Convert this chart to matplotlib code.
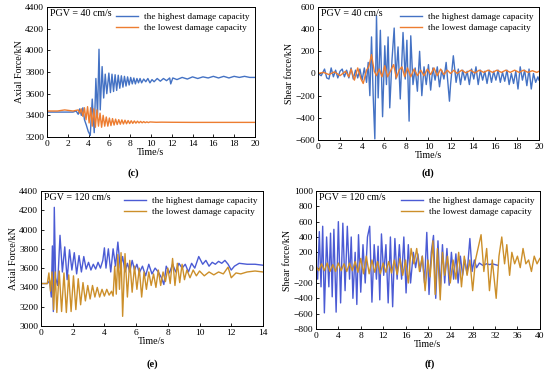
import matplotlib
matplotlib.use("Agg")
import matplotlib.pyplot as plt

# ---------------- data ----------------
# (c) PGV = 40 cm/s, axial force
c_hi_t = [0, 2.5, 2.8, 3.0, 3.15, 3.3, 3.45, 3.6, 3.78, 3.97, 4.16, 4.35, 4.54, 4.7, 4.86, 5.0, 5.12,
          5.3, 5.45, 5.6, 5.75, 5.95, 6.1, 6.25, 6.4, 6.55, 6.7, 6.85, 7.0, 7.15, 7.3, 7.45, 7.6, 7.75,
          7.9, 8.05, 8.2, 8.35, 8.5, 8.65, 8.8, 8.95, 9.1, 9.3, 9.5, 9.7, 9.9, 10.1, 10.3, 10.6, 10.9,
          11.2, 11.5, 11.8, 11.9, 12.1, 12.5, 13.0, 13.5, 14.0, 14.5, 15.0, 15.5, 16.0, 16.5, 17.0,
          17.5, 18.0, 18.5, 19.0, 19.5, 20.0]
c_hi_v = [3430, 3430, 3440, 3410, 3460, 3400, 3470, 3360, 3310, 3250, 3215, 3550, 3240, 3740, 3400,
          4010, 3450, 3850, 3560, 3780, 3600, 3790, 3610, 3780, 3620, 3775, 3630, 3770, 3650, 3765,
          3660, 3760, 3670, 3755, 3680, 3750, 3690, 3745, 3690, 3740, 3700, 3740, 3700, 3735, 3710,
          3740, 3700, 3730, 3710, 3740, 3715, 3740, 3720, 3745, 3690, 3745, 3730, 3750, 3735, 3755,
          3740, 3755, 3745, 3760, 3745, 3760, 3745, 3760, 3750, 3760, 3750, 3750]
c_lo_t = [0, 1.0, 1.7, 2.5, 3.0, 3.15, 3.3, 3.45, 3.6, 3.75, 3.9, 4.05, 4.2, 4.35, 4.5, 4.65, 4.8,
          4.95, 5.1, 5.25, 5.4, 5.55, 5.7, 5.85, 6.0, 6.15, 6.3, 6.45, 6.6, 6.75, 6.9, 7.05, 7.2, 7.35,
          7.5, 7.65, 7.8, 7.95, 8.1, 8.25, 8.4, 8.55, 8.7, 8.85, 9.0, 9.15, 9.3, 9.45, 9.6, 9.75, 9.9,
          10.5, 11.0, 12.0, 14.0, 16.0, 18.0, 20.0]
c_lo_v = [3440, 3440, 3450, 3440, 3450, 3420, 3460, 3390, 3470, 3360, 3480, 3330, 3470, 3300, 3460,
          3290, 3450, 3300, 3420, 3290, 3400, 3300, 3385, 3300, 3375, 3305, 3370, 3310, 3365, 3315,
          3360, 3318, 3358, 3320, 3355, 3322, 3352, 3324, 3350, 3326, 3348, 3328, 3346, 3330, 3344,
          3331, 3342, 3332, 3340, 3333, 3339, 3336, 3337, 3336, 3335, 3335, 3335, 3335]

# (d) PGV = 40 cm/s, shear force
d_hi_t = [0, 0.3, 0.6, 0.8, 1.0, 1.2, 1.4, 1.6, 1.8, 2.0, 2.2, 2.4, 2.6, 2.8, 3.0, 3.2, 3.4, 3.6, 3.8,
          4.0, 4.2, 4.4, 4.55, 4.7, 4.85, 5.0, 5.15, 5.3, 5.45, 5.65, 5.85, 6.05, 6.2, 6.35, 6.5, 6.7,
          6.9, 7.05, 7.25, 7.45, 7.7, 7.9, 8.05, 8.25, 8.4, 8.6, 8.8, 9.0, 9.2, 9.4, 9.6, 9.8, 10.0,
          10.2, 10.4, 10.6, 10.8, 11.0, 11.2, 11.4, 11.6, 11.9, 12.0, 12.25, 12.5, 12.7, 12.9, 13.1,
          13.3, 13.5, 13.7, 13.9, 14.1, 14.3, 14.5, 14.7, 14.9, 15.1, 15.3, 15.5, 15.7, 15.9, 16.1,
          16.3, 16.5, 16.7, 16.9, 17.1, 17.3, 17.5, 17.7, 17.9, 18.1, 18.3, 18.5, 18.7, 18.9, 19.1,
          19.3, 19.5, 19.7, 19.9, 20.0]
d_hi_v = [0, -20, 40, -40, -50, 50, -30, 30, -40, 20, 40, -30, 30, -40, 50, -50, 30, -40, 40, -60, 50,
          -80, 100, -200, 330, -200, -590, 520, -220, 390, -390, 250, -100, 330, -310, 120, 410, -50,
          240, -230, 370, -50, 300, -430, 340, -100, 50, -160, 200, -200, 60, -100, 80, -150, 50, -60,
          60, -120, 30, -50, 100, -250, -100, 160, -80, 40, -100, 30, -60, 20, -100, 40, -50, 60, -100,
          30, -60, 20, -90, 30, -80, 20, -60, 30, -80, 10, -70, 30, -100, 0, -90, 20, -140, 60, -60,
          30, -110, 40, -140, 0, -80, -30, -60]
d_lo_t = [0, 0.5, 1.0, 1.5, 2.0, 2.5, 2.8, 3.0, 3.3, 3.6, 3.9, 4.1, 4.4, 4.6, 4.85, 5.1, 5.3, 5.55,
          5.8, 6.05, 6.3, 6.55, 6.85, 7.1, 7.35, 7.6, 7.85, 8.1, 8.4, 8.7, 9.0, 9.3, 9.6, 9.9, 10.2,
          10.5, 10.8, 11.1, 11.4, 11.7, 12.0, 12.3, 12.6, 13.0, 13.4, 13.8, 14.2, 14.6, 15.0, 15.4,
          15.8, 16.2, 16.6, 17.0, 17.4, 17.8, 18.2, 18.6, 19.0, 19.4, 19.8, 20.0]
d_lo_v = [0, 10, -10, 15, -20, 20, -30, 40, -60, 50, -50, -90, 30, 60, 170, 20, -20, 40, -30, 70, -30,
          20, 80, -40, 30, 60, -30, 50, -30, 40, -20, 30, -20, 40, -10, 50, -20, 40, -10, 30, 0, 30, 0,
          30, 5, 30, 5, 30, 10, 30, 10, 30, 10, 30, 10, 30, 10, 30, 10, 25, 10, 20]

# (e) PGV = 120 cm/s, axial force
e_hi_t = [0, 0.4, 0.55, 0.65, 0.72, 0.78, 0.84, 0.92, 1.05, 1.2, 1.35, 1.5, 1.65, 1.8, 1.95, 2.1, 2.25,
          2.4, 2.55, 2.7, 2.85, 3.0, 3.15, 3.3, 3.45, 3.6, 3.75, 3.9, 4.0, 4.1, 4.25, 4.4, 4.55, 4.7,
          4.85, 5.0, 5.15, 5.3, 5.45, 5.6, 5.75, 5.9, 6.05, 6.2, 6.4, 6.6, 6.8, 7.0, 7.2, 7.4, 7.6,
          7.75, 7.9, 8.1, 8.3, 8.5, 8.7, 8.9, 9.1, 9.3, 9.5, 9.7, 9.95, 10.2, 10.4, 10.6, 10.8, 11.0,
          11.2, 11.4, 11.6, 11.8, 12.0, 12.2, 12.5, 13.0, 13.5, 14.0]
e_hi_v = [3440, 3440, 3470, 3300, 3830, 3150, 4230, 3500, 3420, 3940, 3560, 3820, 3480, 3790, 3580,
          3760, 3540, 3730, 3560, 3720, 3590, 3660, 3580, 3640, 3590, 3660, 3600, 3680, 3810, 3600,
          3800, 3560, 3800, 3620, 3870, 3600, 3720, 3560, 3650, 3560, 3680, 3580, 3640, 3550, 3620,
          3520, 3640, 3540, 3600, 3560, 3500, 3430, 3620, 3550, 3640, 3560, 3650, 3600, 3640, 3560,
          3650, 3600, 3720, 3640, 3680, 3620, 3660, 3640, 3670, 3650, 3680, 3640, 3580, 3620, 3650,
          3640, 3640, 3630]
e_lo_t = [0, 0.4, 0.5, 0.6, 0.7, 0.8, 0.9, 1.0, 1.15, 1.3, 1.45, 1.6, 1.75, 1.9, 2.05, 2.2, 2.35, 2.5,
          2.65, 2.8, 2.95, 3.1, 3.25, 3.4, 3.55, 3.7, 3.85, 4.0, 4.15, 4.3, 4.45, 4.55, 4.65, 4.75,
          4.85, 4.95, 5.05, 5.15, 5.3, 5.45, 5.6, 5.75, 5.9, 6.05, 6.2, 6.35, 6.5, 6.65, 6.8, 6.95,
          7.1, 7.25, 7.4, 7.55, 7.7, 7.85, 8.0, 8.15, 8.3, 8.45, 8.6, 8.75, 8.9, 9.05, 9.2, 9.4, 9.6,
          9.8, 10.0, 10.3, 10.6, 10.9, 11.2, 11.5, 11.8, 12.0, 12.3, 12.6, 13.0, 13.5, 14.0]
e_lo_v = [3440, 3440, 3550, 3360, 3560, 3170, 3560, 3140, 3570, 3150, 3550, 3140, 3530, 3150, 3520,
          3170, 3490, 3220, 3450, 3260, 3420, 3280, 3420, 3300, 3400, 3300, 3380, 3310, 3380, 3320,
          3360, 3310, 3620, 3330, 3740, 3380, 3760, 3100, 3750, 3300, 3680, 3350, 3620, 3380, 3600,
          3300, 3560, 3380, 3560, 3420, 3540, 3400, 3580, 3420, 3560, 3460, 3600, 3440, 3700, 3420,
          3650, 3450, 3640, 3480, 3580, 3500, 3580, 3520, 3570, 3520, 3560, 3530, 3560, 3540, 3610,
          3500, 3550, 3540, 3560, 3570, 3560]

# (f) PGV = 120 cm/s, shear force
f_hi_t = [0, 0.3, 0.6, 0.9, 1.2, 1.5, 1.9, 2.3, 2.6, 2.9, 3.2, 3.6, 4.0, 4.4, 4.8, 5.2, 5.6, 6.0, 6.3,
          6.6, 7.0, 7.3, 7.6, 8.0, 8.4, 8.8, 9.2, 9.6, 10.0, 10.4, 10.8, 11.1, 11.4, 11.7, 12.1, 12.5,
          12.9, 13.3, 13.7, 14.1, 14.5, 14.9, 15.3, 15.7, 16.1, 16.5, 16.9, 17.4, 17.8, 18.2, 18.6,
          19.0, 19.4, 19.8, 20.2, 20.6, 21.0, 21.4, 21.8, 22.2, 22.6, 23.0, 23.4, 23.8, 24.2, 24.6,
          25.0, 25.4, 25.8, 26.2, 26.6, 27.0, 27.5, 27.9, 28.3, 28.7, 29.2, 29.8, 30.5, 31.0, 31.5,
          32.0, 32.5]
f_hi_v = [0, -150, 470, -250, 540, -590, 400, -250, 450, -380, 500, -580, 600, -460, 580, -300, 540,
          -150, 400, -400, 200, -480, 430, -320, 300, -200, 400, 540, -450, 300, -150, 280, -420, 440,
          -100, 300, -460, 400, -510, 380, -150, 300, -150, 400, -330, 300, -200, 200, 0, 180, -50,
          150, -200, 460, -350, 200, 420, -400, 350, -300, 300, -200, 250, -230, 200, -150, 180, -200,
          150, -100, 100, -80, 380, -50, 100, 0, 60, 30, 50, 40, 50, 40, 30]
f_lo_t = [0, 0.5, 1.0, 1.5, 2.0, 2.5, 3.0, 3.5, 4.0, 4.5, 5.0, 5.5, 6.0, 6.5, 7.0, 7.5, 8.0, 8.5, 9.0,
          9.5, 10.0, 10.5, 11.0, 11.5, 12.0, 12.5, 13.0, 13.5, 14.0, 14.5, 15.0, 15.5, 16.0, 16.5,
          17.0, 17.5, 18.0, 18.5, 19.0, 19.5, 20.0, 20.4, 20.9, 21.3, 21.7, 22.2, 22.6, 23.0, 23.5,
          24.0, 24.5, 25.0, 25.5, 26.0, 26.5, 27.0, 27.5, 28.0, 28.5, 29.5, 30.0, 30.5, 31.0, 31.5,
          32.2, 32.7, 33.2, 33.7, 34.1, 34.6, 35.0, 35.5, 36.0, 36.5, 37.0, 37.5, 38.0, 38.5, 39.0,
          39.5, 40.0]
f_lo_v = [20, -40, 50, -40, 60, -50, 40, -50, 60, -40, 50, -50, 60, -40, 80, -60, 120, -80, 150, -80,
          100, -60, 80, -80, 60, -60, 80, -70, 100, -90, 120, -100, 100, -200, 250, 50, 250, -50, 150,
          -300, 100, -120, 350, -350, 250, -420, 200, -100, 150, -200, 100, -150, 200, -250, 150, -100,
          100, -300, 100, 430, -50, 250, -300, 100, -400, 150, 400, 50, 300, -100, 200, 50, 150, 0, 250,
          50, 100, -50, 150, 50, 120]

legend_labels = ["the highest damage capacity", "the lowest damage capacity"]

# ---------------- styling ----------------
plt.rcParams['font.family'] = ['Liberation Serif', 'DejaVu Serif']
FS = 6.5

fig = plt.figure(figsize=(5.5, 3.72), dpi=100)

panels = [
    dict(rect=[0.0855, 0.6317, 0.378, 0.3495], hi=(c_hi_t, c_hi_v), lo=(c_lo_t, c_lo_v),
         xlim=(0, 20), xt=range(0, 21, 2), ylim=(3200, 4400), yt=range(3200, 4401, 200),
         ylab="Axial Force/kN", pgv="PGV = 40 cm/s", tag="(c)", tagxy=(133, 173),
         chi='#4472C4', clo='#ED7D31'),
    dict(rect=[0.578, 0.6237, 0.402, 0.3575], hi=(d_hi_t, d_hi_v), lo=(d_lo_t, d_lo_v),
         xlim=(0, 20), xt=range(0, 21, 2), ylim=(-600, 600), yt=range(-600, 601, 200),
         ylab="Shear force/kN", pgv="PGV = 40 cm/s", tag="(d)", tagxy=(428, 173),
         chi='#4472C4', clo='#ED7D31'),
    dict(rect=[0.0745, 0.1237, 0.4036, 0.363], hi=(e_hi_t, e_hi_v), lo=(e_lo_t, e_lo_v),
         xlim=(0, 14), xt=range(0, 15, 2), ylim=(3000, 4400), yt=range(3000, 4401, 200),
         ylab="Axial Force/kN", pgv="PGV = 120 cm/s", tag="(e)", tagxy=(152, 364),
         chi='#4B5BD4', clo='#CC8F2A'),
    dict(rect=[0.5745, 0.1156, 0.407, 0.371], hi=(f_hi_t, f_hi_v), lo=(f_lo_t, f_lo_v),
         xlim=(0, 40), xt=range(0, 41, 4), ylim=(-800, 1000), yt=range(-800, 1001, 200),
         ylab="Shear force/kN", pgv="PGV = 120 cm/s", tag="(f)", tagxy=(430, 364),
         chi='#4B5BD4', clo='#CC8F2A'),
]

for p in panels:
    ax = fig.add_axes(p['rect'])
    ax.plot(*p['hi'], color=p['chi'], lw=1.0, label=legend_labels[0])
    ax.plot(*p['lo'], color=p['clo'], lw=1.0, label=legend_labels[1])
    ax.set_xlim(*p['xlim'])
    ax.set_ylim(*p['ylim'])
    ax.set_xticks(list(p['xt']))
    ax.set_yticks(list(p['yt']))
    ax.tick_params(direction='in', length=2.5, width=0.6, labelsize=FS + 0.3, pad=2)
    for s in ax.spines.values():
        s.set_linewidth(0.7)
    ax.set_xlabel("Time/s", fontsize=FS + 0.7, labelpad=0)
    ax.set_ylabel(p['ylab'], fontsize=FS + 0.7, labelpad=1)
    ax.text(0.015, 0.985, p['pgv'], transform=ax.transAxes, ha='left', va='top', fontsize=FS + 0.7)
    ax.legend(loc='upper right', frameon=False, fontsize=FS + 0.2, handlelength=2.4,
              handletextpad=0.6, labelspacing=0.25, borderaxespad=0.3, borderpad=0.3)
    fig.text(p['tagxy'][0] / 550, 1 - p['tagxy'][1] / 372, p['tag'], ha='center', va='center',
             fontsize=FS + 1, fontweight='bold')

fig.savefig("out.png", dpi=100)
